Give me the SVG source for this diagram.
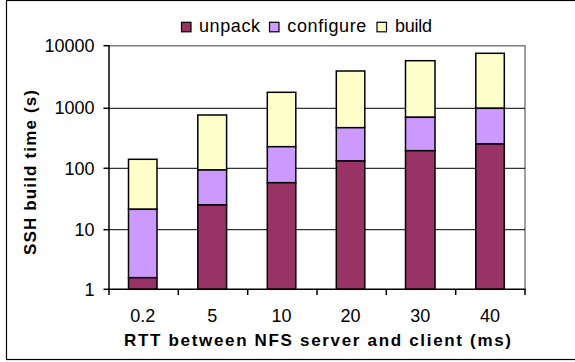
<svg xmlns="http://www.w3.org/2000/svg" width="575" height="362" viewBox="0 0 575 362">
<style>
text{font-family:"Liberation Sans",Arial,sans-serif;fill:#000}
.t{font-size:18px}
.b{font-weight:bold;font-size:17px}
.grid{stroke:#000;stroke-width:1}
.u{fill:#993366;stroke:#000;stroke-width:1.5}
.c{fill:#CC99FF;stroke:#000;stroke-width:1.5}
.d{fill:#FFFFCC;stroke:#000;stroke-width:1.5}
.lg{stroke:#000;stroke-width:1.2}
</style>
<rect x="0" y="0" width="575" height="362" fill="#fff"/>
<rect x="6.5" y="0.5" width="572" height="359" fill="none" stroke="#000" stroke-width="1.2"/>
<g id="plot-frame">
<polyline points="109,45.7 525,45.7 525,289.3" fill="none" stroke="#808080" stroke-width="1.5"/>
</g>
<g id="gridlines">
<line class="grid" x1="109" y1="108.3" x2="525" y2="108.3"/>
<line class="grid" x1="109" y1="168.3" x2="525" y2="168.3"/>
<line class="grid" x1="109" y1="229.7" x2="525" y2="229.7"/>
</g>
<g id="bars">
<g id="bar-0.2">
<rect class="d" x="128.5" y="159.3" width="28.5" height="50"/>
<rect class="c" x="128.5" y="209.3" width="28.5" height="68.4"/>
<rect class="u" x="128.5" y="277.7" width="28.5" height="11.6"/>
</g>
<g id="bar-5">
<rect class="d" x="197.8" y="115" width="28.8" height="55"/>
<rect class="c" x="197.8" y="170" width="28.8" height="35"/>
<rect class="u" x="197.8" y="205" width="28.8" height="84.3"/>
</g>
<g id="bar-10">
<rect class="d" x="267.3" y="92.3" width="28.5" height="54.4"/>
<rect class="c" x="267.3" y="146.7" width="28.5" height="36"/>
<rect class="u" x="267.3" y="182.7" width="28.5" height="106.6"/>
</g>
<g id="bar-20">
<rect class="d" x="336.3" y="71" width="28.5" height="56.7"/>
<rect class="c" x="336.3" y="127.7" width="28.5" height="33.3"/>
<rect class="u" x="336.3" y="161" width="28.5" height="128.3"/>
</g>
<g id="bar-30">
<rect class="d" x="405.5" y="60.7" width="29.5" height="56.6"/>
<rect class="c" x="405.5" y="117.3" width="29.5" height="33.4"/>
<rect class="u" x="405.5" y="150.7" width="29.5" height="138.6"/>
</g>
<g id="bar-40">
<rect class="d" x="475.8" y="53.3" width="28.5" height="55"/>
<rect class="c" x="475.8" y="108.3" width="28.5" height="35.7"/>
<rect class="u" x="475.8" y="144" width="28.5" height="145.3"/>
</g>
</g>
<g id="axes" stroke="#000" stroke-width="1.5" fill="none">
<line x1="109" y1="45" x2="109" y2="290"/>
<line x1="108.3" y1="289.3" x2="525.7" y2="289.3"/>
<line x1="103.5" y1="45.7" x2="109" y2="45.7"/>
<line x1="103.5" y1="108.3" x2="109" y2="108.3"/>
<line x1="103.5" y1="168.3" x2="109" y2="168.3"/>
<line x1="103.5" y1="229.7" x2="109" y2="229.7"/>
<line x1="103.5" y1="289.3" x2="109" y2="289.3"/>
<line x1="109" y1="289.3" x2="109" y2="295"/>
<line x1="178.3" y1="289.3" x2="178.3" y2="295"/>
<line x1="247.7" y1="289.3" x2="247.7" y2="295"/>
<line x1="317" y1="289.3" x2="317" y2="295"/>
<line x1="386.3" y1="289.3" x2="386.3" y2="295"/>
<line x1="455.7" y1="289.3" x2="455.7" y2="295"/>
<line x1="525" y1="289.3" x2="525" y2="295"/>
</g>
<g id="y-ticks" class="t" text-anchor="end">
<text class="t" x="94.5" y="52">10000</text>
<text class="t" x="94.5" y="114">1000</text>
<text class="t" x="94.5" y="174.5">100</text>
<text class="t" x="94.5" y="236">10</text>
<text class="t" x="94.5" y="295.5">1</text>
</g>
<g id="x-ticks" text-anchor="middle">
<text class="t" x="142.7" y="321.5">0.2</text>
<text class="t" x="212.2" y="321.5">5</text>
<text class="t" x="281.5" y="321.5">10</text>
<text class="t" x="350.6" y="321.5">20</text>
<text class="t" x="420.2" y="321.5">30</text>
<text class="t" x="490" y="321.5">40</text>
</g>
<text class="b" x="124" y="345.5" textLength="387" lengthAdjust="spacing">RTT between NFS server and client (ms)</text>
<text class="b" transform="translate(36,255) rotate(-90)" x="0" y="0" textLength="165" lengthAdjust="spacing">SSH build time (s)</text>
<g id="legend">
<g id="legend-unpack">
<rect class="lg" x="181.5" y="22.3" width="9.5" height="9.5" fill="#993366"/>
<text class="t" x="199" y="32" textLength="61" lengthAdjust="spacing">unpack</text>
</g>
<g id="legend-configure">
<rect class="lg" x="269.5" y="22.3" width="9.5" height="9.5" fill="#CC99FF"/>
<text class="t" x="287.3" y="32" textLength="79" lengthAdjust="spacing">configure</text>
</g>
<g id="legend-build">
<rect class="lg" x="377" y="22.3" width="9.5" height="9.5" fill="#FFFFCC"/>
<text class="t" x="395" y="32" textLength="37" lengthAdjust="spacing">build</text>
</g>
</g>
</svg>
